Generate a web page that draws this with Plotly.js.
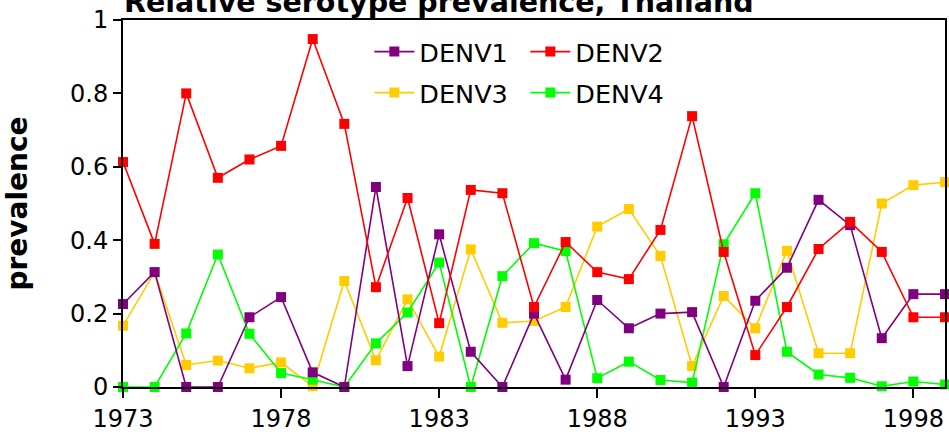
<!DOCTYPE html>
<html>
<head>
<meta charset="utf-8">
<script src="https://cdn.plot.ly/plotly-3.0.1.min.js"></script>
<style>html,body{margin:0;padding:0;background:#fff;}#chart{width:949px;height:436px;}</style>
</head>
<body>
<div id="chart"></div>
<script>
const years = [1973,1974,1975,1976,1977,1978,1979,1980,1981,1982,1983,1984,1985,1986,1987,1988,1989,1990,1991,1992,1993,1994,1995,1996,1997,1998,1999];
const denv1 = [0.226,0.313,0.0,0.0,0.19,0.245,0.04,0.0,0.545,0.057,0.416,0.096,0.0,0.2,0.02,0.237,0.16,0.2,0.204,0.0,0.235,0.325,0.51,0.441,0.133,0.253,0.253];
const denv2 = [0.613,0.39,0.8,0.57,0.62,0.657,0.948,0.717,0.272,0.515,0.174,0.537,0.528,0.218,0.395,0.313,0.294,0.428,0.738,0.368,0.087,0.218,0.376,0.45,0.368,0.19,0.19];
const denv3 = [0.167,0.313,0.06,0.072,0.051,0.067,0.002,0.289,0.073,0.239,0.083,0.375,0.175,0.18,0.218,0.437,0.485,0.357,0.057,0.248,0.16,0.371,0.092,0.092,0.5,0.55,0.558];
const denv4 = [0.0,0.0,0.146,0.361,0.145,0.038,0.02,0.0,0.119,0.203,0.339,0.0,0.302,0.392,0.37,0.024,0.069,0.019,0.012,0.389,0.528,0.096,0.034,0.025,0.002,0.015,0.007];
const seriesNames = ['DENV1','DENV2','DENV3','DENV4'];
const seriesColors = ['#800080','#ff0000','#ffcc00','#00ff00'];
const yTickVals = [0,0.2,0.4,0.6,0.8,1];
const yTickText = ['0','0.2','0.4','0.6','0.8','1'];

const data = [denv1, denv2, denv3, denv4];
const legendFor = ['legend','legend','legend2','legend2'];
const traces = data.map((vals, i) => ({
  x: years, y: vals, type: 'scatter', mode: 'lines+markers',
  name: seriesNames[i],
  legend: legendFor[i],
  line: {color: seriesColors[i], width: 1.6},
  marker: {color: seriesColors[i], symbol: 'square', size: 10},
  cliponaxis: false
}));
const order = [2,3,0,1];
const plotTraces = order.map(i => traces[i]);

const font = 'DejaVu Sans, Arial, sans-serif';
const legendCommon = {
  orientation: 'h', xref: 'paper', yref: 'paper',
  xanchor: 'left', yanchor: 'middle',
  bgcolor: 'rgba(0,0,0,0)', borderwidth: 0,
  font: {family: font, size: 25.5, color: '#000'},
  entrywidth: 101, entrywidthmode: 'pixels', traceorder: 'normal',
  itemwidth: 40
};
const layout = {
  width: 949, height: 436,
  margin: {l: 123, r: 4, t: 20, b: 49, autoexpand: false},
  paper_bgcolor: '#fff', plot_bgcolor: '#fff',
  showlegend: true,
  title: {
    text: '<b>Relative serotype prevalence, Thailand</b>',
    font: {family: font, size: 28.5, color: '#000'},
    xref: 'container', x: 124/949, xanchor: 'left',
    yref: 'container', y: 1 - 12/436, yanchor: 'bottom'
  },
  xaxis: {
    range: [1973, 1999], tickmode: 'linear', tick0: 1973, dtick: 5,
    showgrid: false, zeroline: false,
    showline: true, linecolor: '#000', linewidth: 2, mirror: true,
    ticks: 'outside', ticklen: 9, tickwidth: 2, tickcolor: '#000',
    tickfont: {family: font, size: 24, color: '#000'}
  },
  yaxis: {
    range: [0, 1], tickmode: 'array', tickvals: yTickVals, ticktext: yTickText,
    showgrid: false, zeroline: false,
    showline: true, linecolor: '#000', linewidth: 2, mirror: true,
    ticks: 'outside', ticklen: 8, tickwidth: 2, tickcolor: '#000',
    tickfont: {family: font, size: 24, color: '#000'},
    title: {text: '<b>prevalence</b>', font: {family: font, size: 28, color: '#000'}, standoff: 34}
  },
  legend: Object.assign({}, legendCommon, {x: 0.2997, y: (387 - 52) / 367}),
  legend2: Object.assign({}, legendCommon, {x: 0.2997, y: (387 - 93) / 367})
};
Plotly.newPlot('chart', plotTraces, layout, {displayModeBar: false, staticPlot: true});
</script>
</body>
</html>
